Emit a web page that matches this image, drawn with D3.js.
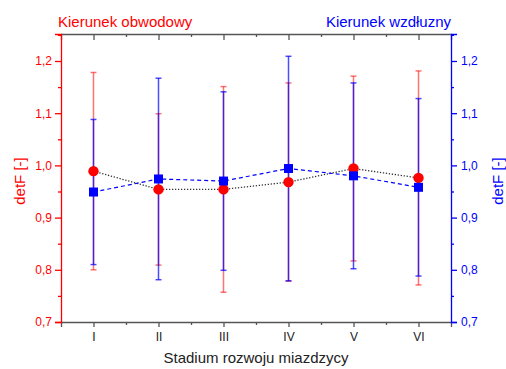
<!DOCTYPE html>
<html>
<head>
<meta charset="utf-8">
<script src="https://cdn.jsdelivr.net/npm/d3@7"></script>
<style>
body { margin: 0; background: #fff; }
svg { font-family: Arial, "Liberation Sans", sans-serif; }
</style>
</head>
<body>
<div id="chart"></div>
<script>
// data
var stages = ["I", "II", "III", "IV", "V", "VI"];
var obwodMean = [0.989, 0.954, 0.954, 0.968, 0.994, 0.976];
var obwodErr  = [0.189, 0.145, 0.197, 0.190, 0.177, 0.205];
var wzdlMean  = [0.949, 0.974, 0.970, 0.994, 0.980, 0.958];
var wzdlErr   = [0.139, 0.193, 0.171, 0.215, 0.178, 0.170];
var yTicks = [0.7, 0.8, 0.9, 1.0, 1.1, 1.2];
var yMinor = [0.75, 0.85, 0.95, 1.05, 1.15, 1.25];

var red = "#ff0000", blue = "#0000ff", grey = "#555";

var margin = {top: 34, right: 55, bottom: 47, left: 61},
    width = 506 - margin.left - margin.right,
    height = 369 - margin.top - margin.bottom;

var svg = d3.select("#chart").append("svg")
    .attr("width", 506).attr("height", 369);
var g = svg.append("g")
    .attr("transform", `translate(${margin.left},${margin.top})`);

var x = d3.scaleLinear().domain([0.5, 6.5]).range([0, width]);
var y = d3.scaleLinear().domain([0.7, 1.2517]).range([height, 0]);

var fmt = function (d) { return d.toFixed(1).replace(".", ","); };
var idx = d3.range(1, 7);
var xMinor = d3.range(1.5, 6.5, 1);

// bottom axis
var bottomAxis = g.append("g").attr("transform", `translate(0,${height})`)
    .call(d3.axisBottom(x).tickValues(idx).tickSize(5).tickPadding(5)
        .tickFormat(function (d) { return stages[d - 1]; }));
bottomAxis.append("g").call(d3.axisBottom(x).tickValues(xMinor).tickSize(3).tickFormat(""))
    .select(".domain").remove();
// top axis, ticks inward
var topAxis = g.append("g")
    .call(d3.axisTop(x).tickValues(idx).tickSize(-6).tickFormat(""));
topAxis.append("g").call(d3.axisTop(x).tickValues(xMinor).tickSize(-3).tickFormat(""))
    .select(".domain").remove();
[bottomAxis, topAxis].forEach(function (a) {
    a.selectAll("path, line").attr("stroke", grey).attr("stroke-width", 1.3);
    a.selectAll("text").attr("fill", "#222").style("font-size", "12px");
});

// left axis (red)
var leftAxis = g.append("g")
    .call(d3.axisLeft(y).tickValues(yTicks).tickSize(6).tickPadding(3).tickFormat(fmt));
leftAxis.append("g").call(d3.axisLeft(y).tickValues(yMinor).tickSize(3).tickFormat(""))
    .select(".domain").remove();
// right axis (blue)
var rightAxis = g.append("g").attr("transform", `translate(${width},0)`)
    .call(d3.axisRight(y).tickValues(yTicks).tickSize(6).tickPadding(4).tickFormat(fmt));
rightAxis.append("g").call(d3.axisRight(y).tickValues(yMinor).tickSize(3).tickFormat(""))
    .select(".domain").remove();
[[leftAxis, red], [rightAxis, blue]].forEach(function (p) {
    p[0].selectAll("path, line").attr("stroke", p[1]).attr("stroke-width", 1.3);
    p[0].selectAll("text").attr("fill", p[1]).style("font-size", "12px");
});

// error bars
function errorBars(mean, err, color, op) {
    var eb = g.append("g").attr("stroke", color).attr("stroke-opacity", op).attr("stroke-width", 1.5);
    mean.forEach(function (m, i) {
        var cx = x(i + 1);
        eb.append("line").attr("x1", cx).attr("x2", cx)
            .attr("y1", y(m - err[i])).attr("y2", y(m + err[i]));
        [m - err[i], m + err[i]].forEach(function (v) {
            eb.append("line").attr("x1", cx - 3).attr("x2", cx + 3)
                .attr("y1", y(v)).attr("y2", y(v));
        });
    });
}
errorBars(obwodMean, obwodErr, red, 0.55);
errorBars(wzdlMean, wzdlErr, blue, 0.7);

// connecting lines
var line = d3.line().x(function (d, i) { return x(i + 1); }).y(function (d) { return y(d); });
g.append("path").datum(obwodMean).attr("d", line)
    .attr("fill", "none").attr("stroke", "#333").attr("stroke-width", 1.3)
    .attr("stroke-dasharray", "1.3,1.7");
g.append("path").datum(wzdlMean).attr("d", line)
    .attr("fill", "none").attr("stroke", blue).attr("stroke-width", 1.2)
    .attr("stroke-dasharray", "4,3");

// markers
g.selectAll(".dot").data(obwodMean).enter().append("circle")
    .attr("class", "dot")
    .attr("cx", function (d, i) { return x(i + 1); })
    .attr("cy", function (d) { return y(d); })
    .attr("r", 5.2).attr("fill", red);
g.selectAll(".sq").data(wzdlMean).enter().append("rect")
    .attr("class", "sq")
    .attr("x", function (d, i) { return x(i + 1) - 4.5; })
    .attr("y", function (d) { return y(d) - 4.5; })
    .attr("width", 9).attr("height", 9).attr("fill", blue);

// titles and labels
svg.append("text").attr("x", 58).attr("y", 27).attr("fill", red)
    .style("font-size", "15px").text("Kierunek obwodowy");
svg.append("text").attr("x", margin.left + width).attr("y", 27).attr("fill", blue)
    .attr("text-anchor", "end").style("font-size", "15px").text("Kierunek wzdłuzny");
svg.append("text").attr("x", margin.left + width / 2).attr("y", 363)
    .attr("text-anchor", "middle").attr("fill", "#222").style("font-size", "15px")
    .text("Stadium rozwoju miazdzycy");
svg.append("text").attr("transform", "translate(25,181) rotate(-90)")
    .attr("text-anchor", "middle").attr("fill", red).style("font-size", "15px").text("detF [-]");
svg.append("text").attr("transform", "translate(503,181) rotate(-90)")
    .attr("text-anchor", "middle").attr("fill", blue).style("font-size", "15px").text("detF [-]");
</script>
</body>
</html>
